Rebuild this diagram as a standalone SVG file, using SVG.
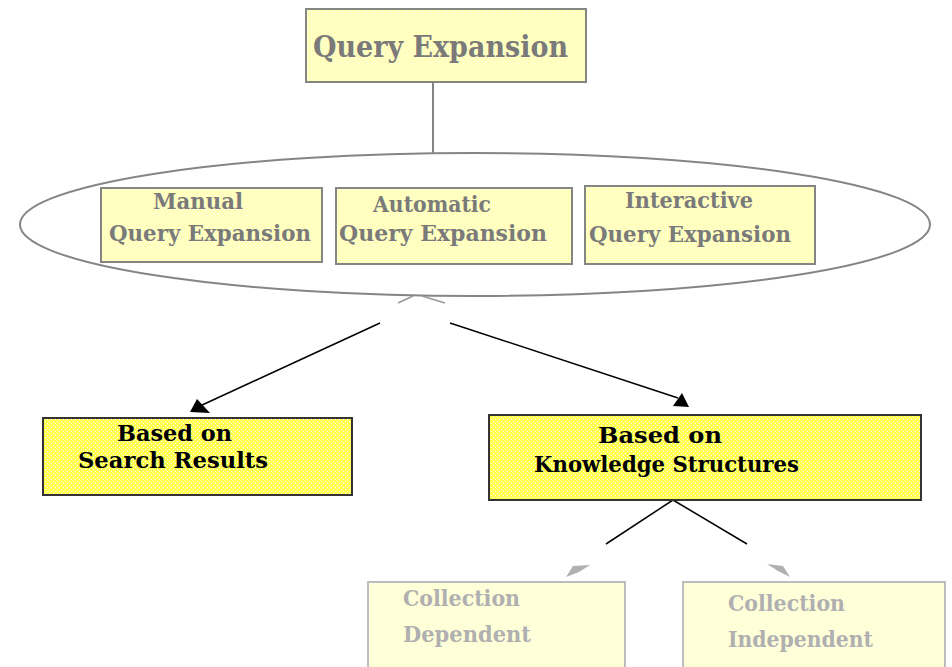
<svg xmlns="http://www.w3.org/2000/svg" width="952" height="667" viewBox="0 0 952 667">
<defs>
<pattern id="pPale" width="4" height="4" patternUnits="userSpaceOnUse">
<rect width="4" height="4" fill="#ffffb8"/>
<rect x="1" y="1" width="1" height="1" fill="#ffffff"/>
<rect x="3" y="3" width="1" height="1" fill="#ffffff"/>
</pattern>
<pattern id="pBright" width="4" height="4" patternUnits="userSpaceOnUse">
<rect width="4" height="4" fill="#ffff50"/>
<rect x="1" y="1" width="1" height="1" fill="#ffffff"/>
<rect x="3" y="3" width="1" height="1" fill="#ffffff"/>
</pattern>
<pattern id="pFaint" width="4" height="4" patternUnits="userSpaceOnUse">
<rect width="4" height="4" fill="#ffffd4"/>
<rect x="1" y="1" width="1" height="1" fill="#ffffff"/>
<rect x="3" y="3" width="1" height="1" fill="#ffffff"/>
</pattern>
<style>
text{font-family:"DejaVu Serif","Liberation Serif",serif;font-weight:bold}
.g{fill:#7a7a7a}
.b{fill:#000}
.l{fill:#b0b0b0}
.pale{fill:url(#pPale);stroke:#858585;stroke-width:2}
.bright{fill:url(#pBright);stroke:#333;stroke-width:2}
.faint{fill:url(#pFaint);stroke:#bdbdbd;stroke-width:2}
</style>
</defs>
<rect width="952" height="667" fill="#fff"/>

<g id="group-ellipse">
<ellipse cx="475" cy="224.5" rx="455" ry="71.5" fill="none" stroke="#858585" stroke-width="2"/>
</g>

<g id="connectors">
<line x1="433" y1="82" x2="433" y2="153" stroke="#858585" stroke-width="2"/>
<line x1="413" y1="296" x2="398" y2="303" stroke="#999" stroke-width="1.5"/>
<line x1="422" y1="296" x2="445" y2="303" stroke="#999" stroke-width="1.5"/>
<line x1="380" y1="323" x2="200" y2="406" stroke="#000" stroke-width="1.5"/>
<polygon points="190,412 210,413 197,399" fill="#000"/>
<line x1="450" y1="323" x2="678" y2="398" stroke="#000" stroke-width="1.5"/>
<polygon points="673,406 689,407 682,393" fill="#000"/>
<line x1="673" y1="500" x2="606" y2="544" stroke="#000" stroke-width="1.5"/>
<line x1="673" y1="500" x2="747" y2="544" stroke="#000" stroke-width="1.5"/>
<polygon points="566,577 573,566 590,565 579,572" fill="#b0b0b0"/>
<polygon points="790,577 783,566 767,564 778,571" fill="#b0b0b0"/>
</g>

<g id="node-query-expansion">
<rect x="306" y="9" width="280" height="73" class="pale"/>
<text x="313" y="57" font-size="29" textLength="255" lengthAdjust="spacingAndGlyphs" class="g">Query Expansion</text>
</g>

<g id="node-manual">
<rect x="101" y="188" width="221" height="74" class="pale"/>
<text x="153" y="209" font-size="22" textLength="90" lengthAdjust="spacingAndGlyphs" class="g">Manual</text>
<text x="109" y="241" font-size="22" textLength="202" lengthAdjust="spacingAndGlyphs" class="g">Query Expansion</text>
</g>

<g id="node-automatic">
<rect x="336" y="188" width="236" height="76" class="pale"/>
<text x="373" y="212" font-size="22" textLength="118" lengthAdjust="spacingAndGlyphs" class="g">Automatic</text>
<text x="339" y="241" font-size="22" textLength="208" lengthAdjust="spacingAndGlyphs" class="g">Query Expansion</text>
</g>

<g id="node-interactive">
<rect x="585" y="186" width="230" height="78" class="pale"/>
<text x="625" y="208" font-size="22" textLength="128" lengthAdjust="spacingAndGlyphs" class="g">Interactive</text>
<text x="589" y="242" font-size="22" textLength="202" lengthAdjust="spacingAndGlyphs" class="g">Query Expansion</text>
</g>

<g id="node-search-results">
<rect x="43" y="418" width="309" height="77" class="bright"/>
<text x="117" y="441" font-size="23" textLength="115" lengthAdjust="spacingAndGlyphs" class="b">Based on</text>
<text x="78" y="468" font-size="23" textLength="190" lengthAdjust="spacingAndGlyphs" class="b">Search Results</text>
</g>

<g id="node-knowledge-structures">
<rect x="489" y="415" width="432" height="85" class="bright"/>
<text x="598" y="443" font-size="23" textLength="124" lengthAdjust="spacingAndGlyphs" class="b">Based on</text>
<text x="534" y="472" font-size="23" textLength="265" lengthAdjust="spacingAndGlyphs" class="b">Knowledge Structures</text>
</g>

<g id="node-collection-dependent">
<rect x="368" y="582" width="257" height="100" class="faint"/>
<text x="403" y="606" font-size="23" textLength="117" lengthAdjust="spacingAndGlyphs" class="l">Collection</text>
<text x="403" y="642" font-size="23" textLength="128" lengthAdjust="spacingAndGlyphs" class="l">Dependent</text>
</g>

<g id="node-collection-independent">
<rect x="683" y="582" width="262" height="100" class="faint"/>
<text x="728" y="611" font-size="23" textLength="117" lengthAdjust="spacingAndGlyphs" class="l">Collection</text>
<text x="728" y="647" font-size="23" textLength="145" lengthAdjust="spacingAndGlyphs" class="l">Independent</text>
</g>
</svg>
